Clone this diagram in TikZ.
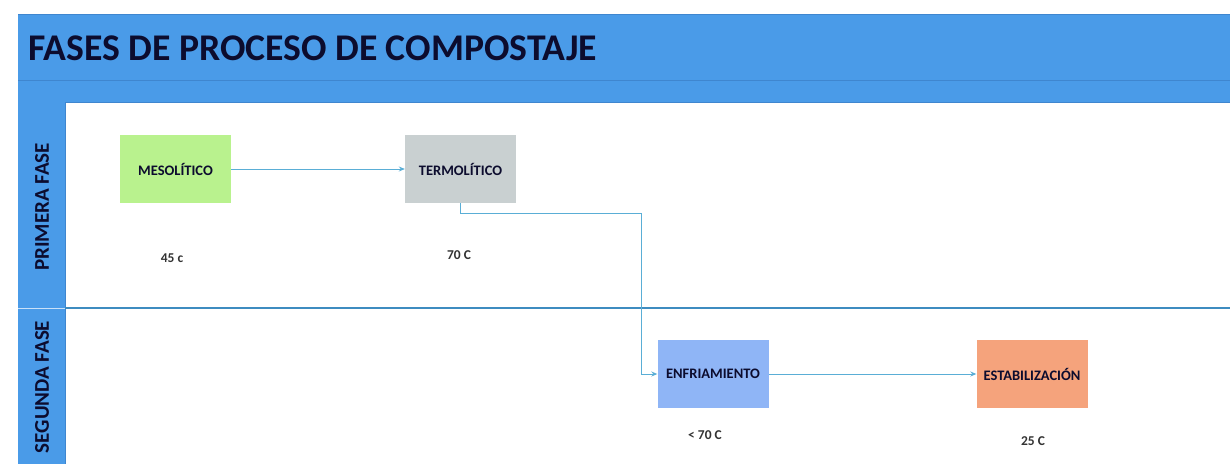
\documentclass[tikz,border=0pt]{standalone}
\usepackage{fontspec}
\setmainfont{Carlito}
\usetikzlibrary{arrows.meta}
\definecolor{hdrblue}{HTML}{4A9BE8}
\definecolor{hdrline}{HTML}{3F86CF}
\definecolor{navy}{HTML}{0C0C2E}
\definecolor{laneline}{HTML}{3E8CC0}
\definecolor{connc}{HTML}{5AAED6}
\definecolor{gfill}{HTML}{B9F28E}
\definecolor{tfill}{HTML}{C9D0D1}
\definecolor{efill}{HTML}{8FB5F6}
\definecolor{sfill}{HTML}{F5A37C}
\tikzset{
  phasebox/.style={minimum width=111pt, minimum height=68pt, inner sep=0pt, font=\bfseries\fontsize{14.5}{16}\selectfont, text=navy},
  templabel/.style={font=\bfseries\fontsize{13.5}{15}\selectfont, text=black!80},
  lanelabel/.style={rotate=90, font=\bfseries\fontsize{21}{24}\selectfont, text=navy},
  conn/.style={draw=connc, line width=0.9pt, -{Stealth[length=6pt,width=5pt]}}
}
\begin{document}
\begin{tikzpicture}[x=1pt,y=-1pt]
\useasboundingbox (0,0) rectangle (1230,464);
\fill[white] (0,0) rectangle (1230,464);
% header
\fill[hdrblue] (18,14) rectangle (1230,103);
\draw[hdrline, line width=1.2pt] (18,14.5) -- (1230,14.5);
\draw[hdrline, line width=0.8pt] (18,80) -- (1230,80);
\draw[hdrline, line width=1pt] (65,102.5) -- (1230,102.5);
% left lane column
\fill[hdrblue] (18,103) rectangle (65,464);
\draw[hdrline, line width=1pt] (65,103) -- (65,464);
\draw[white!70!hdrblue, line width=1pt] (18,308) -- (65,308);
% lane divider
\draw[laneline, line width=1.3pt] (65,308) -- (1230,308);
% title
\node[anchor=west, font=\bfseries\fontsize{37.7}{42}\selectfont, text=navy, inner sep=0pt] (title) at (28,48) {FASES DE PROCESO DE COMPOSTAJE};
% lane labels
\node[lanelabel] (lane1) at (42,207) {PRIMERA FASE};
\node[lanelabel] (lane2) at (42,387) {SEGUNDA FASE};
% phase boxes
\node[phasebox, fill=gfill] (meso) at (175.5,169) {MESOLÍTICO};
\node[phasebox, fill=tfill] (termo) at (460.5,169) {TERMOLÍTICO};
\node[phasebox, fill=efill] (enfri) at (713,374) {ENFRIAMIENTO};
\node[phasebox, fill=sfill] (estab) at (1032,374) {ESTABILIZACIÓN};
% temperature labels
\node[templabel] (t1) at (172,258) {45 c};
\node[templabel] (t2) at (459,255) {70 C};
\node[templabel] (t3) at (705,435) {< 70 C};
\node[templabel] (t4) at (1033,441) {25 C};
% connectors
\coordinate (bend) at (641,213);
\draw[conn] (meso.east) -- (termo.west);
\draw[conn] (termo.south) |- (bend) |- (enfri.west);
\draw[conn] (enfri.east) -- (estab.west);
\end{tikzpicture}
\end{document}
